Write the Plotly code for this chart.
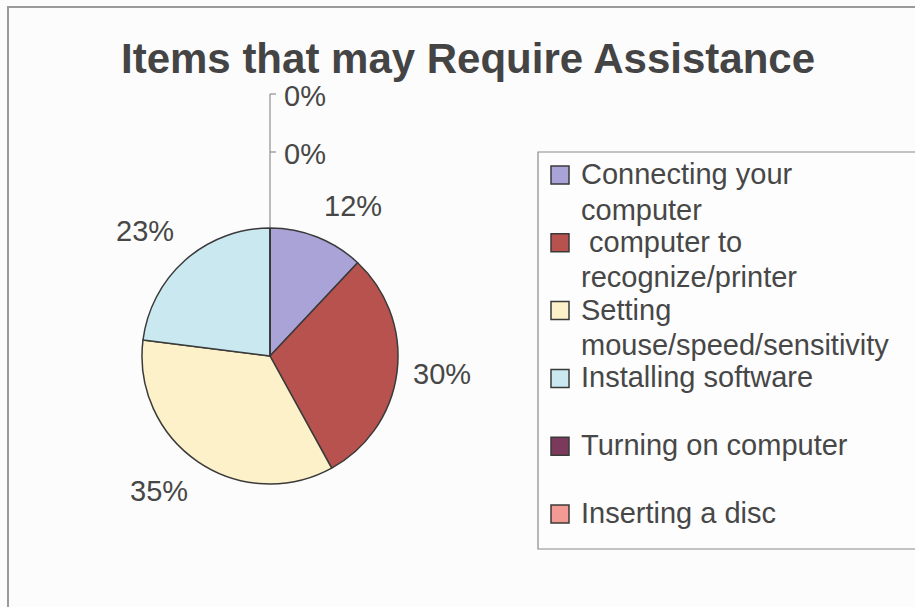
import math
import plotly.graph_objects as go

# ---- data ----
categories = [
    "Connecting your<br>computer",
    " computer to<br>recognize/printer",
    "Setting<br>mouse/speed/sensitivity",
    "Installing software",
    "Turning on computer",
    "Inserting a disc",
]
values = [12, 30, 35, 23, 0, 0]
label_texts = ["12%", "30%", "35%", "23%", "0%", "0%"]
colors = ["#a9a3d8", "#b8524f", "#fdf1c9", "#c9e8ef", "#7b3a5c", "#f29a93"]

W, H = 915, 607
cx, cy, R = 270, 356, 128  # pie centre / radius in pixels
FONT = "Liberation Sans, Arial, sans-serif"
TXT = "#474747"


def px(x):
    return x / W


def py(y):
    return 1 - y / H


fig = go.Figure(go.Pie(
    labels=[c.replace("<br>", " ") for c in categories],
    values=values,
    sort=False,
    direction="clockwise",
    rotation=0,
    textinfo="none",
    hoverinfo="label+percent",
    marker=dict(colors=colors, line=dict(color="#3a3a3a", width=1.5)),
    domain=dict(x=[px(cx - R), px(cx + R)], y=[py(cy + R), py(cy - R)]),
    showlegend=False,
))

font_lbl = dict(family=FONT, size=29, color=TXT)

annotations = []
shapes = []
total = sum(values)
cum = 0.0
zero_idx = 0
gap = 14
top = cy - R
for v, t in zip(values, label_texts):
    if v == 0:
        # stacked leader labels above the pie top
        ytick = cy - R - 76 - zero_idx * 58
        shapes.append(dict(type="line", xref="paper", yref="paper",
                           x0=px(cx), x1=px(cx + 6), y0=py(ytick), y1=py(ytick),
                           line=dict(color="#7a7a7a", width=1)))
        annotations.append(dict(x=px(cx + 12), y=py(ytick + 2), xref="paper", yref="paper",
                                text=t, showarrow=False, xanchor="left", yanchor="middle",
                                font=font_lbl))
        top = ytick
        zero_idx += 1
        continue
    mid = (cum + v / 2) / total * 2 * math.pi
    cum += v
    s, c = math.sin(mid), math.cos(mid)
    lx = cx + (R + gap) * s
    ly = cy - (R + gap) * c
    xa = "left" if s > 0.2 else ("right" if s < -0.2 else "center")
    ya = "bottom" if c > 0.2 else ("top" if c < -0.2 else "middle")
    annotations.append(dict(x=px(lx), y=py(ly), xref="paper", yref="paper",
                            text=t, showarrow=False, xanchor=xa, yanchor=ya,
                            font=font_lbl))

if zero_idx:
    shapes.append(dict(type="line", xref="paper", yref="paper",
                       x0=px(cx), x1=px(cx), y0=py(cy - R), y1=py(top),
                       line=dict(color="#7a7a7a", width=1)))

# ---- legend (drawn as box + swatches + text lines) ----
LX0, LY0, LY1 = 538, 152, 549
shapes.append(dict(type="rect", xref="paper", yref="paper",
                   x0=px(LX0), x1=px(LX0 + 420), y0=py(LY1), y1=py(LY0),
                   line=dict(color="#8a8a8a", width=1.2), fillcolor="#fdfdfd", layer="below"))
item_pitch = 67.8
line_pitch = 35.5
first_base = 183
for i, (name, col) in enumerate(zip(categories, colors)):
    base = first_base + i * item_pitch
    shapes.append(dict(type="rect", xref="paper", yref="paper",
                       x0=px(551), x1=px(569), y0=py(base + 1), y1=py(base - 17),
                       line=dict(color="#3a3a3a", width=1.5), fillcolor=col))
    for j, line in enumerate(name.split("<br>")):
        b = base + j * line_pitch
        annotations.append(dict(x=px(579), y=py(b - 9), xref="paper", yref="paper",
                                text=line.replace(" ", "&nbsp;", 1) if line.startswith(" ") else line,
                                showarrow=False, xanchor="left", yanchor="middle",
                                font=dict(family=FONT, size=29, color=TXT)))

# chart frame (top and left edges visible)
shapes.append(dict(type="rect", xref="paper", yref="paper",
                   x0=px(8), x1=1.01, y0=-0.01, y1=py(7),
                   line=dict(color="#9a9a9a", width=2)))

annotations.append(dict(x=px(468), y=py(58), xref="paper", yref="paper",
                        text="<b>Items that may Require Assistance</b>", showarrow=False,
                        xanchor="center", yanchor="middle",
                        font=dict(family=FONT, size=42, color="#444444")))

fig.update_layout(
    width=W, height=H,
    margin=dict(l=0, r=0, t=0, b=0),
    paper_bgcolor="#fcfcfc",
    plot_bgcolor="#fcfcfc",
    annotations=annotations,
    shapes=shapes,
    showlegend=False,
)

fig.write_html("out.html")
